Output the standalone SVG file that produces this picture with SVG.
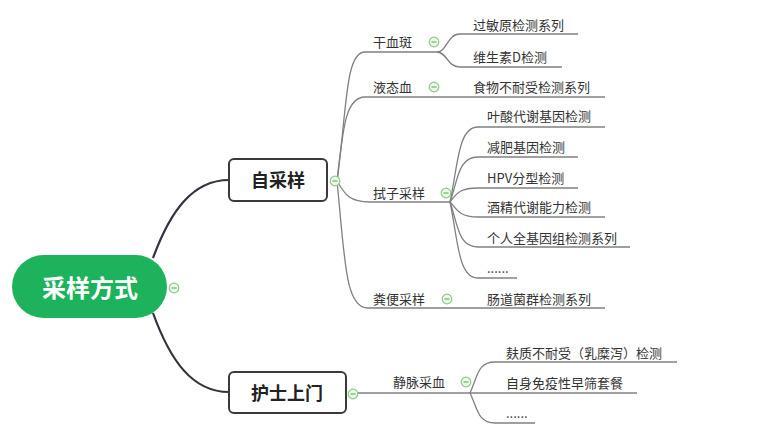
<svg xmlns="http://www.w3.org/2000/svg" width="772" height="446" viewBox="0 0 772 446">
<defs>
<style>
.main{fill:none;stroke:#33333f;stroke-width:2.2}
.sub{fill:none;stroke:#808080;stroke-width:1.3}
.t{font-family:"Noto Sans CJK SC","Liberation Sans",sans-serif;font-size:13px;fill:#333}
.tb{font-family:"Noto Sans CJK SC","Liberation Sans",sans-serif;font-weight:bold;font-size:18px;fill:#222;text-anchor:middle}
.box{fill:#fff;stroke:#3a3a3a;stroke-width:2}
.cc{fill:#eef8e8;stroke:#8cc98c;stroke-width:1.2}
.cm{stroke:#6cb56c;stroke-width:1.2}
</style>
<g id="collapse">
<circle class="cc" cx="0" cy="0" r="4.8"/>
<line class="cm" x1="-2.6" y1="0" x2="2.6" y2="0"/>
</g>
</defs>
<rect width="772" height="446" fill="#fff"/>

<g id="connectors">
<path class="main" d="M153,258 C170,212 192,180 229,180"/>
<path class="main" d="M153,313 C170,360 192,392 229,392"/>
<path class="sub" d="M337,181 C347,110 345,52 365,52 L437,52"/>
<path class="sub" d="M337,181 C343,130 345,97 365,97 L605,97"/>
<path class="sub" d="M337,181 C345,195 350,202 370,202 L450,202"/>
<path class="sub" d="M337,181 C345,260 345,308 368,308 L605,308"/>
<path class="sub" d="M437,52 C447,52 447,34 460,34 L578,34"/>
<path class="sub" d="M437,52 C447,52 447,67 460,67 L562,67"/>
<path class="sub" d="M450,202 C458,165 458,127 478,127 L605,127"/>
<path class="sub" d="M450,202 C458,180 458,157 478,157 L578,157"/>
<path class="sub" d="M450,202 C456,195 458,188 478,188 L578,188"/>
<path class="sub" d="M450,202 C456,208 458,217 478,217 L605,217"/>
<path class="sub" d="M450,202 C458,225 458,247 478,247 L630,247"/>
<path class="sub" d="M450,202 C458,240 458,278 478,278 L517,278"/>
<path class="sub" d="M358,393 L470,393"/>
<path class="sub" d="M470,393 C478,375 478,362 495,362 L677,362"/>
<path class="sub" d="M470,393 L637,393"/>
<path class="sub" d="M470,393 C478,410 478,423 495,423 L535,423"/>
</g>

<g id="root">
<rect x="12" y="255" width="155" height="63" rx="31.5" fill="#1db35c"/>
<text x="90" y="297" font-family="'Noto Sans CJK SC','Liberation Sans',sans-serif" font-weight="bold" font-size="24" fill="#fff" text-anchor="middle">采样方式</text>
<use href="#collapse" x="174" y="288"/>
</g>

<g id="zicaiyang">
<rect class="box" x="229" y="159" width="98" height="42" rx="5"/>
<text class="tb" x="278" y="187">自采样</text>
<use href="#collapse" x="335" y="181"/>
</g>

<g id="hushi">
<rect class="box" x="229" y="372" width="117" height="41" rx="5"/>
<text class="tb" x="287" y="400">护士上门</text>
<use href="#collapse" x="353" y="394"/>
</g>

<g id="ganxueban">
<text class="t" x="373" y="47">干血斑</text>
<use href="#collapse" x="434" y="42"/>
</g>
<g id="guominyuan"><text class="t" x="473" y="30">过敏原检测系列</text></g>
<g id="weishengsu"><text class="t" x="473" y="62">维生素D检测</text></g>

<g id="yetaixue">
<text class="t" x="373" y="92">液态血</text>
<use href="#collapse" x="434" y="87"/>
</g>
<g id="shiwu"><text class="t" x="473" y="92">食物不耐受检测系列</text></g>

<g id="shizi">
<text class="t" x="373" y="198">拭子采样</text>
<use href="#collapse" x="446" y="193"/>
</g>
<g id="yesuan"><text class="t" x="487" y="121">叶酸代谢基因检测</text></g>
<g id="jianfei"><text class="t" x="487" y="152">减肥基因检测</text></g>
<g id="hpv"><text class="t" x="487" y="183">HPV分型检测</text></g>
<g id="jiujing"><text class="t" x="487" y="212">酒精代谢能力检测</text></g>
<g id="geren"><text class="t" x="487" y="243">个人全基因组检测系列</text></g>
<g id="more1"><text class="t" x="487" y="273">......</text></g>

<g id="fenbian">
<text class="t" x="373" y="304">粪便采样</text>
<use href="#collapse" x="447" y="299"/>
</g>
<g id="changdao"><text class="t" x="487" y="304">肠道菌群检测系列</text></g>

<g id="jingmai">
<text class="t" x="393" y="387">静脉采血</text>
<use href="#collapse" x="466" y="382"/>
</g>
<g id="fuzhi"><text class="t" x="506" y="358">麸质不耐受（乳糜泻）检测</text></g>
<g id="zishen"><text class="t" x="506" y="388">自身免疫性早筛套餐</text></g>
<g id="more2"><text class="t" x="506" y="418">......</text></g>
</svg>
